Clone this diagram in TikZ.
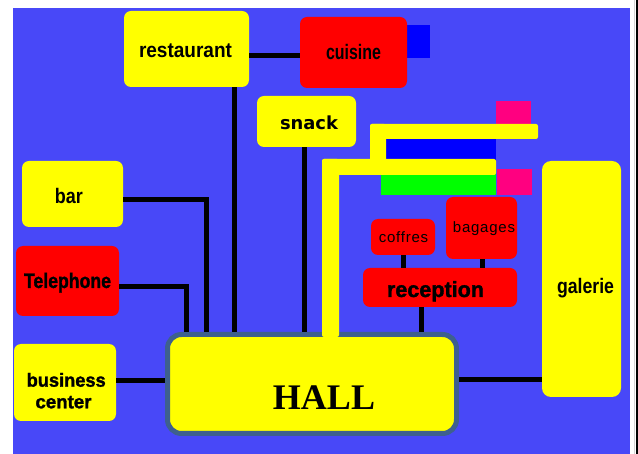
\documentclass[tikz,border=0pt]{standalone}
\usepackage{fontspec}
\usepackage{graphicx}
\setmainfont{Liberation Sans}
\newfontfamily\snackf{DejaVu Sans}
\newfontfamily\hallf{Liberation Serif}
\newfontfamily\spacedf{Liberation Sans}[LetterSpace=5]
\newfontfamily\heavyf{Liberation Sans}[BoldFeatures={FakeBold=1.5}]
\newcommand\fitw[2]{\resizebox{#1pt}{\height}{#2}}
\definecolor{bgblue}{RGB}{72,72,248}
\definecolor{pureblue}{RGB}{0,0,255}
\definecolor{hallborder}{RGB}{62,96,142}
\definecolor{pinkbox}{RGB}{255,0,128}
\definecolor{greenbox}{RGB}{0,255,0}
\definecolor{boxyellow}{RGB}{255,255,0}
\definecolor{boxred}{RGB}{255,0,0}
\begin{document}
\begin{tikzpicture}[x=1pt,y=-1pt,
  box/.style={rounded corners=7pt, inner sep=0pt, draw=none},
  ybox/.style={box, fill=boxyellow},
  rbox/.style={box, fill=boxred},
  conn/.style={line width=5pt, draw=black},
  lbl/.style={inner sep=0pt, anchor=base, text=black, font=\bfseries\fontsize{21}{21}\selectfont},
  heavy/.style={inner sep=0pt, anchor=base, text=black, font=\heavyf\bfseries\fontsize{21}{21}\selectfont},
  small/.style={inner sep=0pt, anchor=base, text=black, font=\spacedf\fontsize{15}{15}\selectfont},
  pipe/.style={fill=boxyellow, rounded corners=2pt}]
\useasboundingbox (0,0) rectangle (638,454);
% background and frame
\fill[white] (0,0) rectangle (638,454);
\fill[bgblue] (13,8) rectangle (630,454);
\draw[gray!35, line width=1pt] (634.5,0) -- (634.5,454);
\fill[black] (636,0) rectangle (638,454);

% decorative blocks
\fill[pureblue] (407,25) rectangle (430,58);
\fill[pinkbox] (496,101) rectangle (531,132);
\fill[pinkbox] (497,169) rectangle (532,195);
\fill[pureblue] (386,137) rectangle (496,161);
\fill[greenbox] (381,173) rectangle (496,195);

% boxes
\node[ybox, minimum width=125pt, minimum height=76pt] (restaurant) at (186.5,49) {};
\node[rbox, minimum width=107pt, minimum height=71pt] (cuisine) at (353.5,52.5) {};
\node[ybox, minimum width=99pt, minimum height=51pt] (snack) at (306.5,121.5) {};
\node[ybox, minimum width=101pt, minimum height=66pt] (bar) at (72.5,194) {};
\node[rbox, minimum width=103pt, minimum height=70pt] (telephone) at (67.5,281) {};
\node[ybox, minimum width=102pt, minimum height=77pt] (business) at (65,382.5) {};
\node[fill=boxyellow, draw=hallborder, line width=5pt, rounded corners=14pt, inner sep=0pt,
      minimum width=289pt, minimum height=99pt] (hall) at (312,384) {};
\node[rbox, minimum width=154pt, minimum height=39pt] (reception) at (440,287.5) {};
\node[rbox, minimum width=64pt, minimum height=36pt] (coffres) at (403,237) {};
\node[rbox, minimum width=71pt, minimum height=62pt] (bagages) at (481.5,228) {};
\node[ybox, minimum width=79pt, minimum height=236pt, rounded corners=9pt] (galerie) at (581.5,279) {};

% yellow pipe
\fill[pipe] (322,159) rectangle (496,175);
\fill[pipe] (322,159) rectangle (339,337);
\fill[pipe] (370,124) rectangle (386,175);
\fill[pipe] (370,124) rectangle (538,139);

% connectors
\draw[conn] (restaurant.east |- 0,55.5) -- (cuisine.west |- 0,55.5);
\draw[conn] (restaurant.south -| 234.5,0) -- (hall.north -| 234.5,0);
\draw[conn] (snack.south -| 304.5,0) -- (hall.north -| 304.5,0);
\draw[conn] (bar.east |- 0,200) -| (hall.north -| 206,0);
\draw[conn] (telephone.east |- 0,286.5) -| (hall.north -| 186,0);
\draw[conn] (business.east |- 0,380.5) -- (hall.west |- 0,380.5);
\draw[conn] (hall.east |- 0,379.5) -- (galerie.west |- 0,379.5);
\draw[conn] (reception.south -| 421.5,0) -- (hall.north -| 421.5,0);
\draw[conn] (coffres.south) -- (reception.north -| coffres.south);
\draw[conn] (bagages.south -| 482,0) -- (reception.north -| 482,0);

% labels
\node[lbl] (restauranttext) at (185.5,58) {\fitw{93}{restaurant}};
\node[lbl] (cuisinetext) at (353.5,60) {\fitw{55}{cuisine}};
\node[inner sep=0pt, anchor=base, font=\snackf\bfseries\fontsize{18}{18}\selectfont] (snacktext) at (309,129.3) {\fitw{58}{snack}};
\node[lbl] (bartext) at (69,203.3) {\fitw{28}{bar}};
\node[heavy] (telephonetext) at (67.5,288) {\fitw{87}{Telephone}};
\node[heavy, font=\heavyf\bfseries\fontsize{19}{19}\selectfont] (businesstext) at (66.2,386.7) {\fitw{79}{business}};
\node[heavy, font=\heavyf\bfseries\fontsize{19}{19}\selectfont] (centertext) at (63.5,408.3) {\fitw{56}{center}};
\node[inner sep=0pt, anchor=base, font=\hallf\bfseries\fontsize{36}{36}\selectfont] (halltext) at (324,410) {HALL};
\node[heavy, font=\heavyf\bfseries\fontsize{22}{22}\selectfont] (receptiontext) at (435.5,297) {\fitw{97}{reception}};
\node[small] (coffrestext) at (403.5,242.7) {coffres};
\node[small] (bagagestext) at (484,233) {bagages};
\node[lbl] (galerietext) at (585.5,294) {\fitw{57}{galerie}};
\end{tikzpicture}
\end{document}
